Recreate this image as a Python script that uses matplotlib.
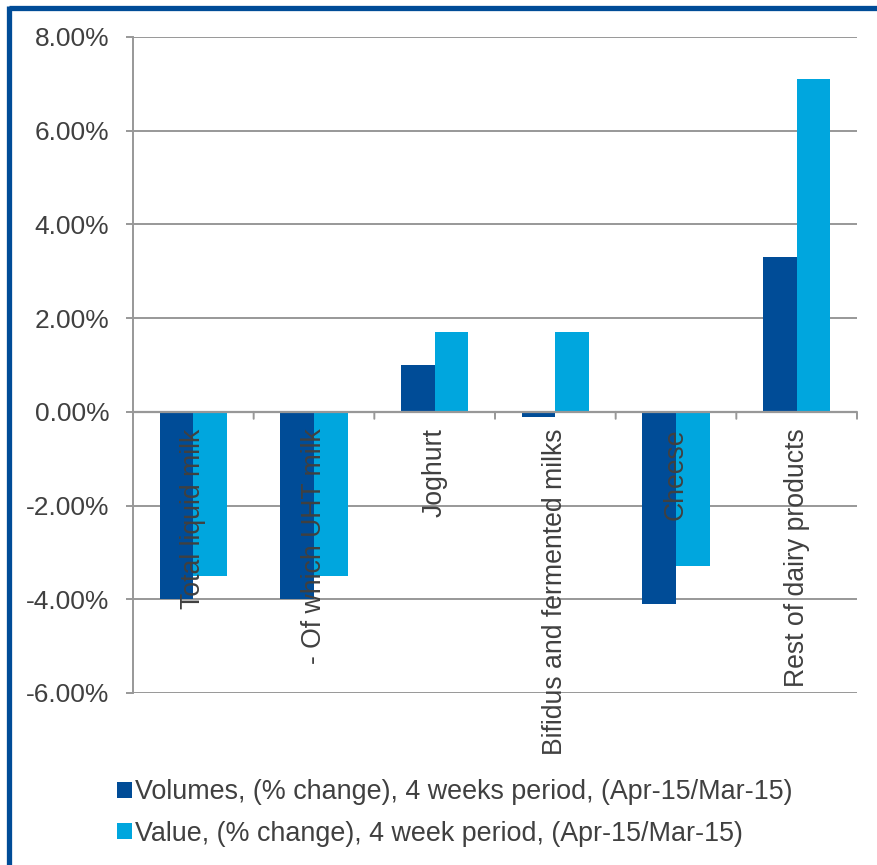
import matplotlib
matplotlib.use("Agg")
import matplotlib.pyplot as plt
import numpy as np
from matplotlib.patches import Patch
from matplotlib.lines import Line2D
from matplotlib.ticker import FuncFormatter, MultipleLocator

categories = ["Total liquid milk", "- Of which UHT milk", "Joghurt",
              "Bifidus and fermented milks", "Cheese", "Rest of dairy products"]
volumes = [-4.0, -4.0, 1.0, -0.1, -4.1, 3.3]
values = [-3.5, -3.5, 1.7, 1.7, -3.3, 7.1]
series_names = ["Volumes, (% change), 4 weeks period, (Apr-15/Mar-15)",
                "Value, (% change), 4 week period, (Apr-15/Mar-15)"]

plt.rcParams['font.family'] = ['Liberation Sans', 'DejaVu Sans']
W, H = 877, 865
fig = plt.figure(figsize=(W/100, H/100), dpi=100)
ax = fig.add_axes([133/W, 1-693/H, (857-133)/W, (693-37)/H])

dark = "#004C97"
light = "#00A6DE"
grid = "#989898"
txt = "#404040"

x = np.arange(len(categories))
bw = 0.28
ax.bar(x - bw/2, volumes, bw, color=dark, edgecolor="none", zorder=3)
ax.bar(x + bw/2, values, bw, color=light, edgecolor="none", zorder=3)

ax.set_xlim(-0.5, len(categories) - 0.5)
ax.set_ylim(-6, 8)
ax.yaxis.set_major_locator(MultipleLocator(2))
ax.yaxis.set_major_formatter(FuncFormatter(lambda v, p: f"{v:.2f}%"))
ax.grid(axis='y', color=grid, linewidth=1.4, zorder=0)
ax.set_axisbelow(True)
for s in ["top", "right", "bottom"]:
    ax.spines[s].set_visible(False)
ax.spines["left"].set_color(grid)
ax.spines["left"].set_linewidth(1.4)
ax.tick_params(axis='y', length=5, width=1.4, color=grid, pad=12,
               labelsize=19, labelcolor=txt)

# category axis at zero
ax.axhline(0, color=grid, linewidth=1.6, zorder=4)
ax.set_xticks([])
for b in np.arange(-0.5, len(categories), 1.0):
    ax.annotate("", xy=(b, 0), xytext=(0, -5), textcoords="offset points",
                xycoords="data",
                arrowprops=dict(arrowstyle="-", color=grid, lw=1.4,
                                shrinkA=0, shrinkB=0))
for xi, lab in zip(x, categories):
    ax.annotate(lab, xy=(xi, 0), xytext=(0, -12), textcoords="offset points",
                rotation=90, ha="center", va="top", fontsize=19.2, color=txt,
                zorder=5)

handles = [Patch(facecolor=dark, edgecolor="none"),
           Patch(facecolor=light, edgecolor="none")]
fig.legend(handles, series_names, loc="upper left",
           bbox_to_anchor=(93/W, 1-755/H), frameon=False, fontsize=19.4,
           handlelength=0.55, handleheight=0.55, handletextpad=0.1,
           labelspacing=0.58, labelcolor=txt)

# frame border (top & left)
fig.add_artist(Line2D([9/W, 1], [1-7.5/H, 1-7.5/H], color=dark, lw=3.8,
                      transform=fig.transFigure, solid_capstyle="butt"))
fig.add_artist(Line2D([9/W, 9/W], [0, 1-7.5/H + 1.9/H], color=dark, lw=3.8,
                      transform=fig.transFigure, solid_capstyle="butt"))

fig.savefig("out.png", dpi=100)
